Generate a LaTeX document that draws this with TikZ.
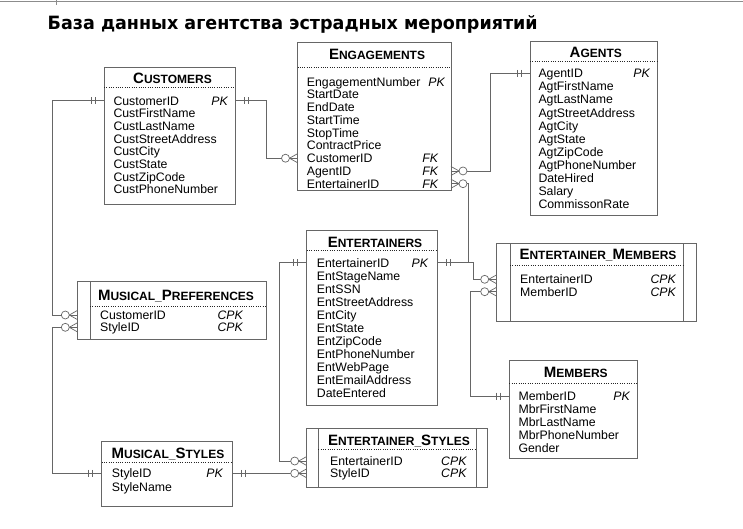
\documentclass[tikz,border=0pt]{standalone}
\usepackage{fontspec}
\setmainfont{Liberation Sans}
\newfontfamily\titlefont{DejaVu Sans}
\usepackage{graphicx}
\newcommand\hbig[1]{{\fontsize{15}{16}\selectfont #1}}
\newcommand\hsm[1]{{\fontsize{12}{14}\selectfont #1}}
\tikzset{
  box/.style={draw=black!60, line width=0.7pt, inner sep=0pt, outer sep=0pt},
  conn/.style={draw=black!60, line width=0.7pt},
  sepline/.style={draw=black!85, line width=1pt, dash pattern=on 1pt off 1.3pt},
  fld/.style={anchor=west, inner sep=0pt, text height=8.8pt, text depth=0pt, font=\fontsize{12.3}{14}\selectfont},
  keyf/.style={anchor=east, inner sep=0pt, text height=8.8pt, text depth=0pt, font=\fontsize{12.3}{14}\selectfont\itshape},
  hdr/.style={anchor=center, inner sep=0pt, text height=10.7pt, text depth=0pt, font=\bfseries},
  ones/.pic={\draw[conn] (9,-3.5) -- (9,3.5) (13,-3.5) -- (13,3.5);},
  zmany/.pic={\draw[conn] (-8,0) -- (0,-4.5) (-8,0) -- (0,4.5);
              \draw[conn, fill=white] (-12,0) circle[radius=4];},
}
\begin{document}
\begin{tikzpicture}[x=1pt, y=-1pt]
\useasboundingbox (0,0) rectangle (743,528);
\fill[white] (0,0) rectangle (743,528);
\draw[black!45, line width=1pt] (0,1.5) -- (743,1.5);
\draw[black!45, line width=0.8pt] (56,0) -- (56,5);

% title
\node[anchor=base west, inner sep=0pt] (title) at (47.5,29.3)
  {\resizebox{490pt}{14pt}{\titlefont\bfseries База данных агентства эстрадных мероприятий}};

% ---------- CUSTOMERS
\node[box, minimum width=131pt, minimum height=137pt] (cust) at (169.5,135.5) {};
\node[hdr] (cust-t) at (172.5,78) {\hbig{C}\hsm{USTOMERS}};
\draw[sepline] (104,87) -- (235,87);
\foreach \t [count=\i] in {CustomerID,CustFirstName,CustLastName,CustStreetAddress,CustCity,CustState,CustZipCode,CustPhoneNumber}
  \node[fld] (cust\i) at (113.3,{100.7+12.66*(\i-1)}) {\t};
\node[keyf] (cust-k) at (228,100.7) {PK};

% ---------- ENGAGEMENTS
\node[box, minimum width=153.5pt, minimum height=147.7pt] (eng) at (374.25,116.15) {};
\node[hdr] (eng-t) at (377,54.3) {\hbig{E}\hsm{NGAGEMENTS}};
\draw[sepline] (297.5,67.7) -- (451,67.7);
\foreach \t [count=\i] in {EngagementNumber,StartDate,EndDate,StartTime,StopTime,ContractPrice,CustomerID,AgentID,EntertainerID}
  \node[fld] (eng\i) at (306.7,{81.7+12.75*(\i-1)}) {\t};
\node[keyf] (eng-k1) at (445,81.7) {PK};
\node[keyf] (eng-k7) at (438.3,158.2) {FK};
\node[keyf] (eng-k8) at (438.3,170.95) {FK};
\node[keyf] (eng-k9) at (438.3,183.7) {FK};

% ---------- AGENTS
\node[box, minimum width=127pt, minimum height=173.3pt] (agt) at (593.5,128.35) {};
\node[hdr] (agt-t) at (595.8,51.7) {\hbig{A}\hsm{GENTS}};
\draw[sepline] (530,61.7) -- (657,61.7);
\foreach \t [count=\i] in {AgentID,AgtFirstName,AgtLastName,AgtStreetAddress,AgtCity,AgtState,AgtZipCode,AgtPhoneNumber,DateHired,Salary,CommissonRate}
  \node[fld] (agt\i) at (538.3,{73.3+13.1*(\i-1)}) {\t};
\node[keyf] (agt-k) at (650,73.3) {PK};

% ---------- ENTERTAINERS
\node[box, minimum width=130.6pt, minimum height=175pt] (ent) at (372,317.5) {};
\node[hdr] (ent-t) at (375,241.7) {\hbig{E}\hsm{NTERTAINERS}};
\draw[sepline] (306.7,250) -- (437.3,250);
\foreach \t [count=\i] in {EntertainerID,EntStageName,EntSSN,EntStreetAddress,EntCity,EntState,EntZipCode,EntPhoneNumber,EntWebPage,EntEmailAddress,DateEntered}
  \node[fld] (ent\i) at (316.7,{262.7+13.07*(\i-1)}) {\t};
\node[keyf] (ent-k) at (428.3,262.7) {PK};

% ---------- ENTERTAINER_MEMBERS
\node[box, minimum width=200pt, minimum height=78.5pt] (em) at (596.7,282.25) {};
\draw[conn] (510,243) -- (510,321.5);
\draw[conn] (683.3,243) -- (683.3,321.5);
\node[hdr] (em-t) at (598,254) {\hbig{E}\hsm{NTERTAINER\_}\hbig{M}\hsm{EMBERS}};
\draw[sepline] (510,265) -- (683.3,265);
\node[fld] (em1) at (520,279.3) {EntertainerID};
\node[fld] (em2) at (520,291.7) {MemberID};
\node[keyf] (em-k1) at (676,279.3) {CPK};
\node[keyf] (em-k2) at (676,291.7) {CPK};

% ---------- MEMBERS
\node[box, minimum width=128pt, minimum height=97.6pt] (mem) at (573.3,409.5) {};
\node[hdr] (mem-t) at (575.8,371.7) {\hbig{M}\hsm{EMBERS}};
\draw[sepline] (509.3,383.3) -- (637.3,383.3);
\foreach \t [count=\i] in {MemberID,MbrFirstName,MbrLastName,MbrPhoneNumber,Gender}
  \node[fld] (mem\i) at (518.3,{396+13.08*(\i-1)}) {\t};
\node[keyf] (mem-k) at (630,396) {PK};

% ---------- MUSICAL_PREFERENCES
\node[box, minimum width=189.4pt, minimum height=57.6pt] (mp) at (172,310.5) {};
\draw[conn] (90,281.7) -- (90,339.3);
\node[hdr] (mp-t) at (176,295) {\hbig{M}\hsm{USICAL\_}\hbig{P}\hsm{REFERENCES}};
\draw[sepline] (90,306) -- (266.7,306);
\node[fld] (mp1) at (100,315) {CustomerID};
\node[fld] (mp2) at (100,327.3) {StyleID};
\node[keyf] (mp-k1) at (243,315) {CPK};
\node[keyf] (mp-k2) at (243,327.3) {CPK};

% ---------- MUSICAL_STYLES
\node[box, minimum width=131pt, minimum height=64.3pt] (ms) at (167.2,473.85) {};
\node[hdr] (ms-t) at (168,452.7) {\hbig{M}\hsm{USICAL\_}\hbig{S}\hsm{TYLES}};
\draw[sepline] (101.7,462.3) -- (232.7,462.3);
\node[fld] (ms1) at (111.7,473.3) {StyleID};
\node[fld] (ms2) at (111.7,486.7) {StyleName};
\node[keyf] (ms-k) at (223,473.3) {PK};

% ---------- ENTERTAINER_STYLES
\node[box, minimum width=181pt, minimum height=59pt] (es) at (397.2,457.8) {};
\draw[conn] (318.3,428.3) -- (318.3,487.3);
\draw[conn] (476.7,428.3) -- (476.7,487.3);
\node[hdr] (es-t) at (399,440) {\hbig{E}\hsm{NTERTAINER\_}\hbig{S}\hsm{TYLES}};
\draw[sepline] (318.3,449.3) -- (476.7,449.3);
\node[fld] (es1) at (330,461) {EntertainerID};
\node[fld] (es2) at (330,473.3) {StyleID};
\node[keyf] (es-k1) at (466.7,461) {CPK};
\node[keyf] (es-k2) at (466.7,473.3) {CPK};

% ---------- connectors
\draw[conn] (cust.east |- cust1) -- ++(31,0) |- (eng.west |- eng7);
\draw[conn] (cust.west |- cust1) -- ++(-52,0) |- (mp.west |- mp1);
\draw[conn] (ms.west |- ms1) -- ++(-49.7,0) |- (mp.west |- mp2);
\draw[conn] (ms.east |- ms1) -- (es.west |- es2);
\draw[conn] (ent.west |- ent1) -- ++(-27.7,0) |- (es.west |- es1);
\draw[conn] (ent.east |- ent1) -- ++(30.7,0) |- (eng.east |- eng9);
\draw[conn] (ent.east |- ent1) -- ++(35.7,0) |- (em.west |- em1);
\draw[conn] (mem.west |- mem1) -- ++(-39.3,0) |- (em.west |- em2);
\draw[conn] (agt.west |- agt1) -- ++(-40,0) |- (eng.east |- eng8);

% ---------- cardinality marks
\pic at (cust.east |- cust1) {ones};
\pic[xscale=-1] at (cust.west |- cust1) {ones};
\pic[xscale=-1] at (ms.west |- ms1) {ones};
\pic at (ms.east |- ms1) {ones};
\pic[xscale=-1] at (ent.west |- ent1) {ones};
\pic at (ent.east |- ent1) {ones};
\pic[xscale=-1] at (mem.west |- mem1) {ones};
\pic[xscale=-1] at (agt.west |- agt1) {ones};

\pic at (eng.west |- eng7) {zmany};
\pic at (mp.west |- mp1) {zmany};
\pic at (mp.west |- mp2) {zmany};
\pic at (es.west |- es2) {zmany};
\pic at (es.west |- es1) {zmany};
\pic[xscale=-1] at (eng.east |- eng9) {zmany};
\pic[xscale=-1] at (eng.east |- eng8) {zmany};
\pic at (em.west |- em1) {zmany};
\pic at (em.west |- em2) {zmany};
\end{tikzpicture}
\end{document}
